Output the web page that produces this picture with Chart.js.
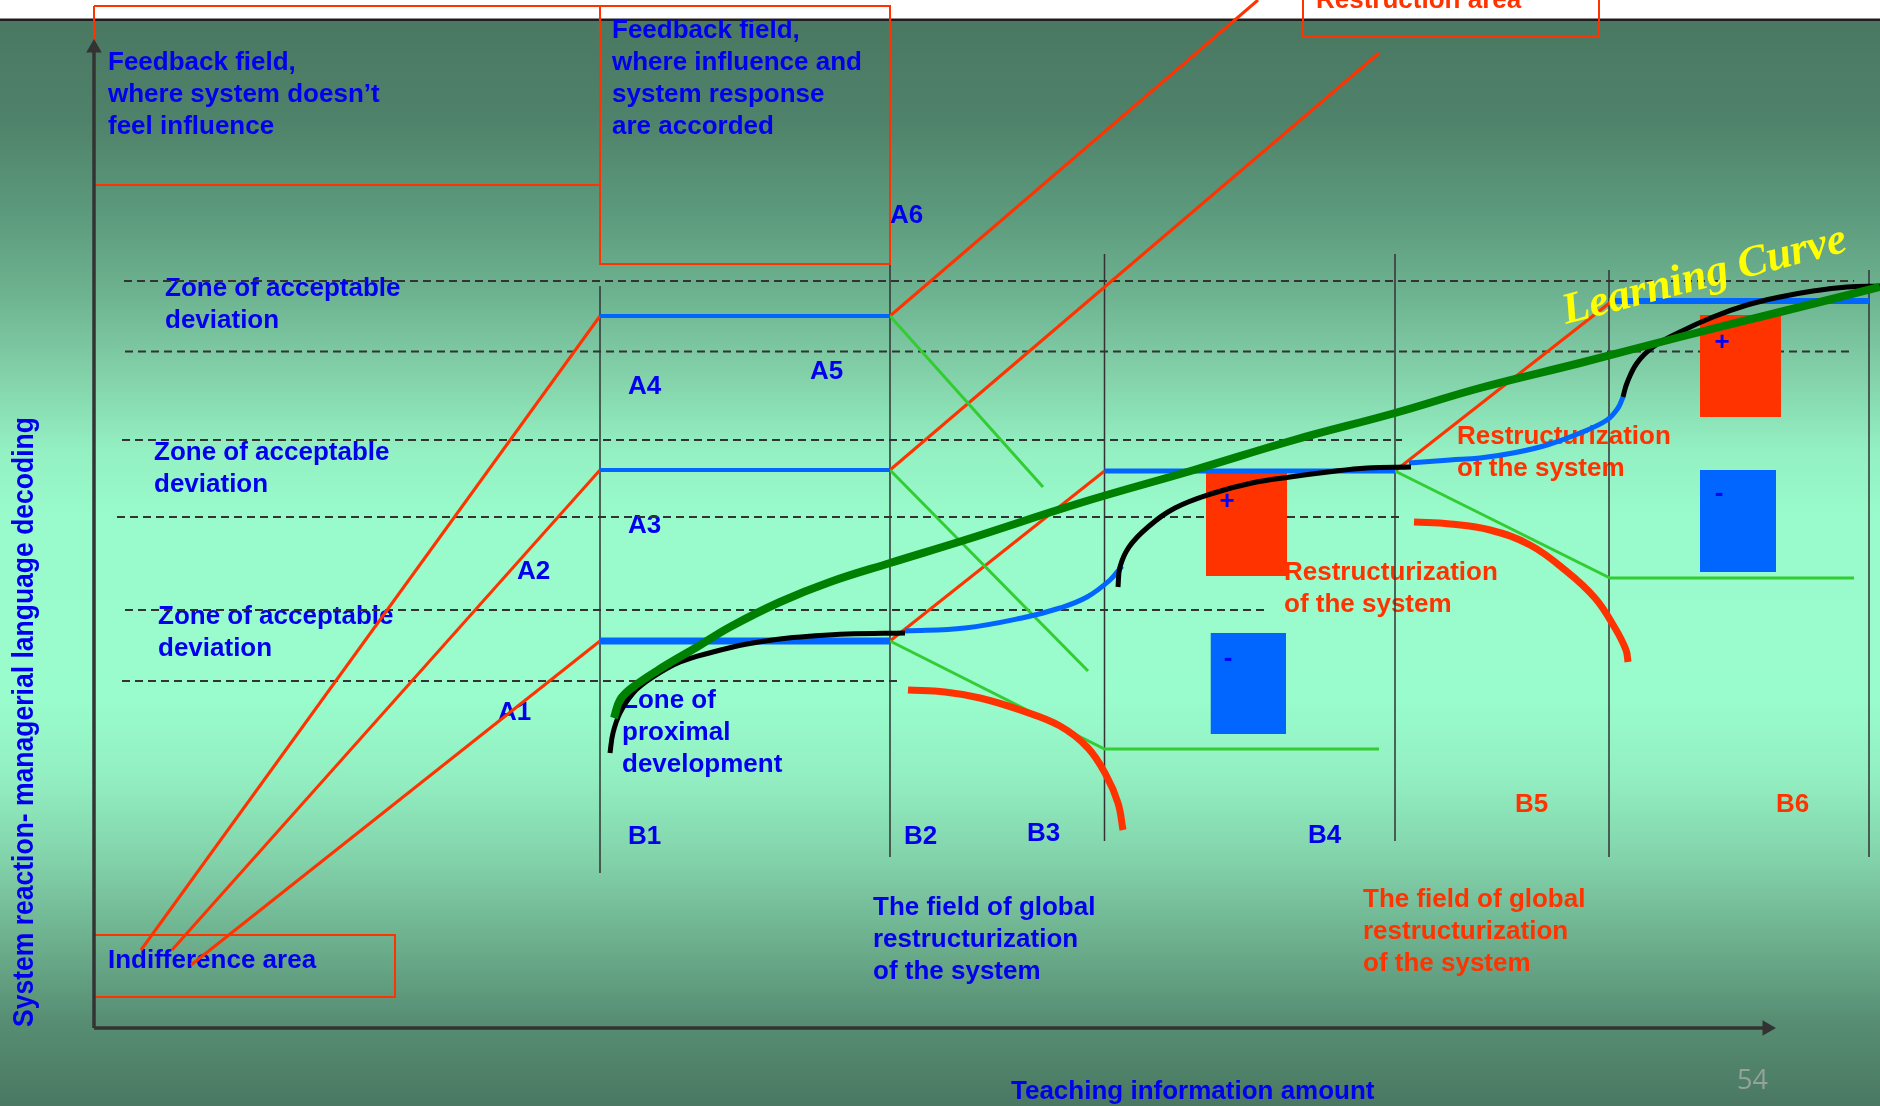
<!DOCTYPE html>
<html>
<head>
<meta charset="utf-8">
<script src="https://cdn.jsdelivr.net/npm/chart.js@4.4.0/dist/chart.umd.min.js"></script>
<style>
html,body{margin:0;padding:0;background:#fff;overflow:hidden}
#wrap{width:1880px;height:1106px;position:relative}
</style>
</head>
<body>
<div id="wrap"><canvas id="c"></canvas></div>
<script>
// ---- Diagram data (x = teaching information amount, y = system reaction; origin at the axes corner) ----
const dashLevels = [74.7, 67.65, 58.8, 51.1, 41.8, 34.7];
const dashFrom   = [3.0, 3.1, 2.8, 2.3, 3.1, 2.8];
const dashTo     = [176.0, 176.0, 130.8, 130.6, 117.3, 80.6];

const stageX      = [50.6, 79.6, 101.05, 130.1, 151.5, 177.5];   // B1..B6 boundaries
const stageTop    = [74.2, 77.4, 77.4, 77.4, 75.8, 75.8];
const stageBottom = [15.5, 17.1, 18.7, 18.7, 17.1, 17.1];

const feedbackBox1   = [[0,102.2],[50.6,102.2],[50.6,84.3],[0,84.3],[0,102.2]];
const feedbackBox2   = [[50.6,102.2],[79.6,102.2],[79.6,76.4],[50.6,76.4],[50.6,102.2]];
const restructionBox = [[120.9,104],[120.9,99.1],[150.5,99.1],[150.5,104]];
const indifferenceBox= [[0,9.3],[30.1,9.3],[30.1,3.1],[0,3.1],[0,9.3]];

// floating bars: [x0, x1, yBottom, yTop]
const plusBar1  = [111.2, 119.3, 45.2, 55.5];
const minusBar1 = [111.65, 119.2, 29.4, 39.5];
const plusBar2  = [160.6, 168.7, 61.1, 71.3];
const minusBar2 = [160.6, 168.2, 45.6, 55.8];

const influenceLines = [
  [[4.7,7.8],[50.6,71.2]],
  [[79.6,71.2],[116.4,102.8]],
  [[7.8,7.8],[50.6,55.8]],
  [[79.6,55.8],[128.5,97.5]],
  [[9.7,6.3],[50.6,38.7]],
  [[79.6,38.7],[101.05,55.7]],
  [[130.1,55.7],[151.8,72.7]]
];
const responseLines = [
  [[79.6,71.2],[94.9,54.1]],
  [[79.6,55.8],[99.4,35.7]],
  [[79.6,38.7],[101.05,27.9],[128.5,27.9]],
  [[130.1,55.7],[151.6,45.0],[176.0,45.0]]
];
const plateaus = [
  [[50.6,71.2],[79.6,71.2]],
  [[50.6,55.8],[79.6,55.8]],
  [[50.6,38.7],[79.6,38.7]],
  [[101.05,55.7],[130.1,55.7]],
  [[151.5,72.7],[177.5,72.7]]
];
const plateauWidths = [4, 4, 7, 5, 6];

const globalArc1 = [[81.4,33.8],[85.1,33.6],[88.6,33.0],[92.6,31.8],[96.6,30.2],[99.4,28.0],[101.2,25.3],[102.4,22.5],[102.9,19.8]];
const globalArc2 = [[132.0,50.6],[135.6,50.4],[139.6,49.8],[143.6,48.3],[147.1,45.8],[150.1,43.0],[152.1,40.0],[153.2,37.8],[153.4,36.6]];

const restructCurve1 = [[81.1,39.7],[87.1,40.0],[92.8,41.0],[96.6,42.0],[99.3,43.1],[101.6,44.8],[102.8,46.2]];
const restructCurve2 = [[131.5,56.5],[135.6,56.8],[138.6,57.0],[141.9,57.5],[145.3,58.3],[148.6,59.5],[151.3,60.8],[152.4,62.0],[152.9,63.1]];

const adaptCurve1 = [[51.6,27.5],[51.9,29.5],[52.6,31.5],[53.9,33.5],[55.9,35.1],[58.6,36.6],[61.9,37.6],[65.3,38.4],[68.6,38.9],[71.9,39.2],[75.3,39.4],[81.1,39.5]];
const adaptCurve2 = [[102.4,44.1],[102.6,46.1],[103.5,48.1],[105.4,50.1],[108.1,52.0],[112.0,53.5],[115.8,54.5],[119.6,55.1],[123.4,55.6],[127.3,56.0],[131.7,56.1]];
const adaptCurve3 = [[152.9,63.1],[153.3,64.5],[154.3,66.5],[155.9,68.1],[158.6,69.6],[161.9,71.1],[165.3,72.3],[168.6,73.1],[171.9,73.7],[175.3,74.1],[178.6,74.2]];

const learningCurve = [[52.0,31.0],[52.6,32.8],[53.9,34.1],[56.9,36.1],[60.3,38.1],[63.6,40.1],[68.6,42.6],[73.6,44.6],[79.6,46.5],[87.1,48.8],[98.6,52.5],[110.0,55.8],[120.0,58.8],[130.1,61.5],[138.6,64.0],[148.6,66.5],[158.6,69.1],[168.6,71.6],[178.6,74.1]];

const yAxisLine = [[0,0],[0,98.0]];
const xAxisLine = [[0,0],[167.3,0]];

// ---- Text annotations ----
const BLUE = '#0000ee', RED = '#ff3300';
const underLabels = [
  {t:["Feedback field,","where system doesn’t","feel influence"], at:[1.4,95.8], c:BLUE},
  {t:["Feedback field,","where influence and","system response","are accorded"], at:[51.8,99.0], c:BLUE},
  {t:["A6"], at:[79.6,80.5], c:BLUE},
  {t:["Zone of acceptable","deviation"], at:[7.1,73.2], c:BLUE},
  {t:["A4"], at:[53.4,63.4], c:BLUE},
  {t:["A5"], at:[71.6,64.9], c:BLUE},
  {t:["Zone of acceptable","deviation"], at:[6.0,56.8], c:BLUE},
  {t:["A3"], at:[53.4,49.5], c:BLUE},
  {t:["A2"], at:[42.3,44.9], c:BLUE},
  {t:["Zone of acceptable","deviation"], at:[6.4,40.4], c:BLUE},
  {t:["A1"], at:[40.4,30.8], c:BLUE},
  {t:["Zone of","proximal","development"], at:[52.8,32.0], c:BLUE},
  {t:["B1"], at:[53.4,18.4], c:BLUE},
  {t:["B2"], at:[81.0,18.4], c:BLUE},
  {t:["B3"], at:[93.3,18.7], c:BLUE},
  {t:["B4"], at:[121.4,18.5], c:BLUE},
  {t:["B5"], at:[142.1,21.6], c:RED},
  {t:["B6"], at:[168.2,21.6], c:RED},
  {t:["Indifference area"], at:[1.4,6.0], c:BLUE},
  {t:["The field of global","restructurization","of the system"], at:[77.9,11.3], c:BLUE},
  {t:["The field of global","restructurization","of the system"], at:[126.9,12.1], c:RED},
  {t:["Restructurization","of the system"], at:[119.0,44.8], c:RED},
  {t:["Restructurization","of the system"], at:[136.3,58.4], c:RED},
  {t:["Teaching information amount"], at:[91.7,-7.1], c:BLUE},
  {t:["Restruction area"], at:[122.2,102.0], c:RED}
];
const signs = [
  {t:"+", at:[113.3,52.6]}, {t:"-", at:[113.4,36.9]},
  {t:"+", at:[162.8,68.5]}, {t:"-", at:[162.5,53.4]}
];
const yTitle = "System reaction- managerial language decoding";
const learningTitle = "Learning Curve";
const pageNo = "54";

// ---- helpers ----
const P = arr => arr.map(([x,y]) => ({x, y}));
const datasets = [];
function add(data, color, width, extra) {
  datasets.push(Object.assign({
    data: P(data), borderColor: color, borderWidth: width,
    pointRadius: 0, fill: false, tension: 0, borderCapStyle: 'butt'
  }, extra || {}));
}

dashLevels.forEach((y,i) => add([[dashFrom[i],y],[dashTo[i],y]], '#333333', 2, {borderDash:[8,5]}));
stageX.forEach((x,i) => add([[x,stageTop[i]],[x,stageBottom[i]]], '#333333', 1.5));
[plusBar1, plusBar2].forEach(b => add([[b[0],b[3]],[b[1],b[3]]], 'rgba(0,0,0,0)', 0, {fill:{value:b[2]}, backgroundColor:'#ff3300'}));
[minusBar1, minusBar2].forEach(b => add([[b[0],b[3]],[b[1],b[3]]], 'rgba(0,0,0,0)', 0, {fill:{value:b[2]}, backgroundColor:'#0066ff'}));
[feedbackBox1, feedbackBox2, restructionBox, indifferenceBox].forEach(b => add(b, '#ff3300', 2));
influenceLines.forEach(l => add(l, '#ff3300', 3));
responseLines.forEach(l => add(l, '#33cc33', 3));
plateaus.forEach((l,i) => add(l, '#0066ff', plateauWidths[i]));
[globalArc1, globalArc2].forEach(l => add(l, '#ff3300', 7, {tension:0.4}));
[restructCurve1, restructCurve2].forEach(l => add(l, '#0066ff', 5, {tension:0.4}));
[adaptCurve1, adaptCurve2, adaptCurve3].forEach(l => add(l, '#000000', 5, {tension:0.4}));
add(learningCurve, '#008000', 8, {tension:0.4, borderCapStyle:'butt'});
add(yAxisLine, '#333333', 3.5, {pointRadius:[0,9], pointStyle:'triangle', pointBackgroundColor:'#333333', pointBorderWidth:0, pointRotation:0});
add(xAxisLine, '#333333', 3.5, {pointRadius:[0,9], pointStyle:'triangle', pointBackgroundColor:'#333333', pointBorderWidth:0, pointRotation:90});
datasets.forEach((d,i) => d.order = -i);

// ---- plugins ----
const bgPlugin = {
  id: 'slideBackground',
  beforeDraw(chart) {
    const {ctx, width, height} = chart;
    ctx.save();
    ctx.fillStyle = '#ffffff';
    ctx.fillRect(0, 0, width, height);
    const top = 20;
    const g = ctx.createLinearGradient(0, top, 0, height);
    const stops = [[20,'#4a7862'],[120,'#4f826a'],[220,'#5d9c7e'],[300,'#6fb592'],[380,'#84d3ab'],[450,'#93f0c2'],[520,'#99fbcb'],[700,'#99fccc'],[780,'#92eec1'],[860,'#82d2aa'],[940,'#6db08e'],[1020,'#578e73'],[1106,'#4a7862']];
    stops.forEach(([y,c]) => g.addColorStop((y-top)/(height-top), c));
    ctx.fillStyle = g;
    ctx.fillRect(0, top, width, height-top);
    ctx.fillStyle = '#1e1e1e';
    ctx.fillRect(0, top-1.5, width, 2.5);
    ctx.restore();
  }
};

const FONT = 'bold 26px "Liberation Sans", Arial, sans-serif';
function drawBlock(chart, b) {
  const {ctx} = chart, sx = chart.scales.x, sy = chart.scales.y;
  const x = sx.getPixelForValue(b.at[0]), y = sy.getPixelForValue(b.at[1]);
  ctx.font = FONT; ctx.fillStyle = b.c; ctx.textAlign = 'left'; ctx.textBaseline = 'alphabetic';
  b.t.forEach((line,i) => ctx.fillText(line, x, y + i*32));
}
const textPlugin = {
  id: 'diagramText',
  beforeDatasetsDraw(chart) {
    const {ctx} = chart, sx = chart.scales.x, sy = chart.scales.y;
    ctx.save();
    underLabels.forEach(b => drawBlock(chart, b));
    ctx.font = '27px "Open Sans", "Liberation Sans", sans-serif';
    ctx.fillStyle = '#93a29b';
    ctx.fillText(pageNo, sx.getPixelForValue(164.3), sy.getPixelForValue(-6.1));
    ctx.translate(sx.getPixelForValue(-6.1), sy.getPixelForValue(0.1));
    ctx.rotate(-Math.PI/2);
    ctx.font = 'bold 29px "Liberation Sans", Arial, sans-serif';
    ctx.fillStyle = BLUE;
    const w = ctx.measureText(yTitle).width;
    ctx.scale(610 / w, 1);
    ctx.fillText(yTitle, 0, 0);
    ctx.restore();
  },
  afterDatasetsDraw(chart) {
    const {ctx} = chart, sx = chart.scales.x, sy = chart.scales.y;
    ctx.save();
    ctx.fillStyle = '#0000ff';
    ctx.textAlign = 'center'; ctx.textBaseline = 'middle';
    ctx.font = 'bold 26px "Liberation Sans", Arial, sans-serif';
    signs.forEach(s => ctx.fillText(s.t, sx.getPixelForValue(s.at[0]), sy.getPixelForValue(s.at[1])));
    ctx.restore();
    ctx.save();
    ctx.translate(sx.getPixelForValue(147.2), sy.getPixelForValue(70.4));
    ctx.rotate(-14.5 * Math.PI / 180);
    ctx.font = 'italic bold 44px "Liberation Serif", "Times New Roman", serif';
    ctx.fillStyle = '#ffff00';
    ctx.textAlign = 'left'; ctx.textBaseline = 'alphabetic';
    const w = ctx.measureText(learningTitle).width;
    ctx.scale(292 / w, 1);
    ctx.fillText(learningTitle, 0, 0);
    ctx.restore();
  }
};

new Chart(document.getElementById('c'), {
  type: 'line',
  data: { datasets },
  options: {
    responsive: true,
    maintainAspectRatio: false,
    animation: false,
    devicePixelRatio: 1,
    events: [],
    layout: { padding: 0, autoPadding: false },
    scales: {
      x: { type: 'linear', min: -9.4, max: 178.6, display: false },
      y: { type: 'linear', min: -7.8, max: 102.8, display: false }
    },
    plugins: { legend: { display: false }, tooltip: { enabled: false }, title: { display: false } }
  },
  plugins: [bgPlugin, textPlugin]
});
</script>
</body>
</html>
